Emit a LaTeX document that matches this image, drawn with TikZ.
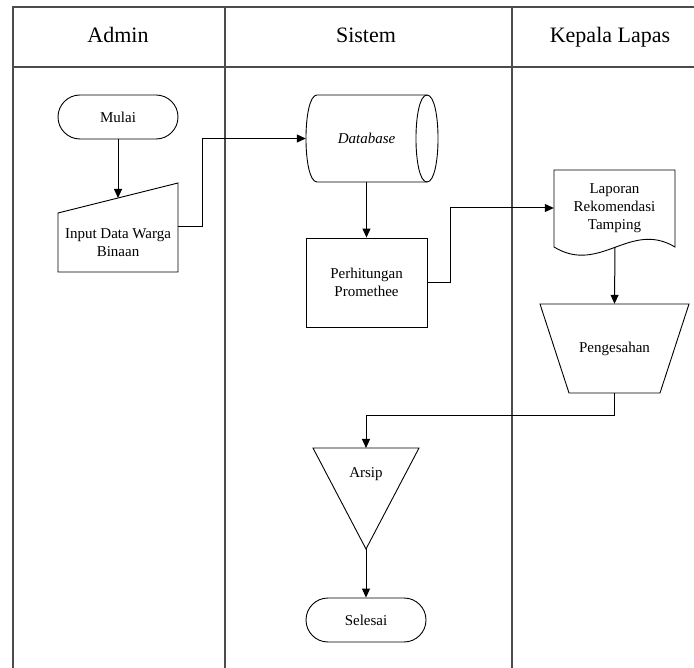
\documentclass[tikz,border=0pt]{standalone}
\usepackage{fontspec}
\setmainfont{Liberation Serif}
\usetikzlibrary{arrows.meta}
\usetikzlibrary{positioning}
\usetikzlibrary{calc}

\begin{document}
\begin{tikzpicture}[
                    x=1pt, y=-1pt,
                    every node/.style={align=center, font=\fontsize{15}{18}\selectfont},
                    lane/.style={draw=black!70, line width=1.3pt},
                    lanetitle/.style={anchor=base, font=\fontsize{22}{26}\selectfont},
                    terminal/.style={draw, line width=0.9pt, rounded corners=22pt, minimum width=120pt, minimum height=44pt},
                    process/.style={draw, line width=0.9pt, minimum width=121pt, minimum height=89pt},
                    outline/.style={draw, line width=0.9pt},
                    flow/.style={line width=1pt, -{Triangle[length=9pt, width=8pt]}}
                ]
                \useasboundingbox (0,0) rectangle (694,668);

                % swimlanes
                \draw[lane] (694,7) -- (13,7) -- (13,668);
                \draw[lane] (13,67) -- (694,67);
                \draw[lane] (225,7) -- (225,668);
                \draw[lane] (512,7) -- (512,668);
                \node[lanetitle] (admin) at (118,43) {Admin};
                \node[lanetitle] (sistem) at (366,43) {Sistem};
                \node[lanetitle] (kalapas) at (610,43) {Kepala Lapas};

                % Admin
                \node[terminal] (mulai) at (118,117) {Mulai};
                \node (input) at (118,243) {Input Data Warga\\Binaan};
                \draw[outline] (58,213) -- (178,183) -- (178,272) -- (58,272) -- cycle;
                \coordinate (input-top) at (118,198);
                \coordinate (input-out) at (178,227);

                % Sistem
                \node[font=\itshape\fontsize{15}{18}\selectfont, minimum width=121pt, minimum height=87pt] (db) at (366.5,138.5) {Database};
                \draw[outline] (317,95) -- (427,95) .. controls (441.7,95) and (441.7,182) .. (427,182)
                               -- (317,182) .. controls (302.3,182) and (302.3,95) .. (317,95);
                \draw[outline] (427,95) .. controls (412.3,95) and (412.3,182) .. (427,182);
                \node[process] (hitung) at (366.5,282.5) {Perhitungan\\Promethee};
                \node (arsip) at (366,474) {Arsip};
                \coordinate (arsip-top) at (366,448);
                \coordinate (arsip-tip) at (366,549);
                \draw[outline] (313,448) -- (419,448) -- (arsip-tip) -- cycle;
                \node[terminal] (selesai) at (366,620) {Selesai};

                % Kepala Lapas
                \node[minimum width=121pt, minimum height=76pt] (laporan) at (614.5,208) {Laporan\\Rekomendasi\\Tamping};
                \draw[outline] (554,170) -- (675,170) -- (675,247) .. controls (630,220) and (600,275) .. (554,247) -- cycle;
                \coordinate (laporan-out) at (615,247);
                \node[minimum width=149pt, minimum height=89pt] (sah) at (614.5,348.5) {Pengesahan};
                \draw[outline] (540,304) -- (689,304) -- (660,393) -- (569,393) -- cycle;

                % alur
                \draw[flow] (mulai.south) -- (input-top);
                \draw[flow] (input-out) -- ++(24,0) |- (db.west);
                \draw[flow] (db.south) -- (hitung.north);
                \draw[flow] (hitung.east) -- ++(23,0) |- (laporan.west);
                \draw[flow] (laporan-out) -- (sah.north);
                \draw[flow] (sah.south) -- ++(0,22) -| (arsip-top);
                \draw[flow] (arsip-tip) -- (selesai.north);
            \end{tikzpicture}
\end{document}
